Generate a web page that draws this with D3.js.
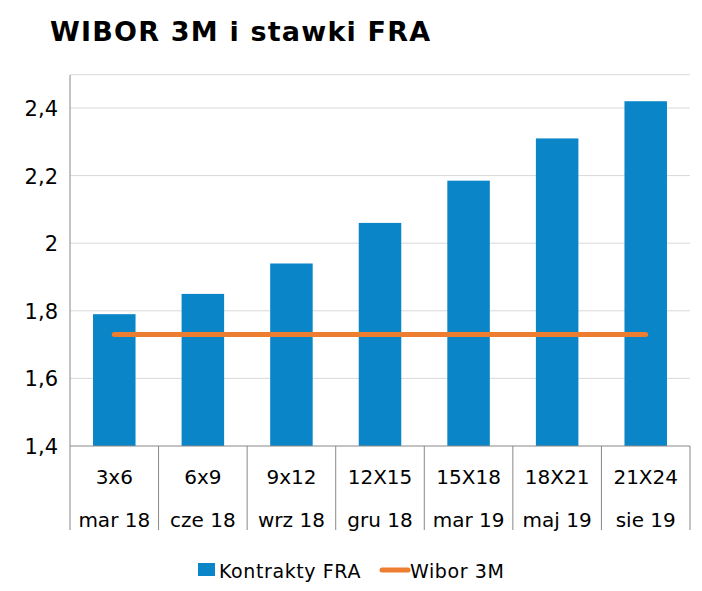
<!DOCTYPE html><html><head><meta charset="utf-8">
<script src="https://cdn.jsdelivr.net/npm/d3@7"></script>
<style>body{margin:0;background:#fff}svg{font-family:"DejaVu Sans",Verdana,sans-serif}</style></head><body>
<svg id="c" width="702" height="591"></svg>
<script>
const contracts=["3x6","6x9","9x12","12X15","15X18","18X21","21X24"];
const dates=["mar 18","cze 18","wrz 18","gru 18","mar 19","maj 19","sie 19"];
const fra=[1.79,1.85,1.94,2.06,2.185,2.31,2.42];
const wibor=[1.73,1.73,1.73,1.73,1.73,1.73,1.73];
const yTicks=[1.4,1.6,1.8,2,2.2,2.4];
const svg=d3.select("#c");
const L=70,R=690,T=75,B=446;
const x=d3.scaleBand().domain(contracts).range([L,R]).paddingInner(0.52).paddingOuter(0.26);
const xb=d3.scaleBand().domain(contracts).range([L,R]);
const y=d3.scaleLinear().domain([1.4,2.5]).range([B,B-338*1.1]);
svg.append("text").attr("x",50).attr("y",41).attr("font-size",27).attr("font-weight","bold").attr("letter-spacing",1.2).text("WIBOR 3M i stawki FRA");
svg.selectAll(".g").data(yTicks.slice(1)).join("line").attr("x1",L).attr("x2",R).attr("y1",d=>y(d)).attr("y2",d=>y(d)).attr("stroke","#d9d9d9");
svg.append("line").attr("x1",L).attr("x2",R).attr("y1",y(2.5)+0.5).attr("y2",y(2.5)+0.5).attr("stroke","#d9d9d9");
svg.selectAll(".b").data(fra).join("rect").attr("x",(d,i)=>x(contracts[i])).attr("width",x.bandwidth()).attr("y",d=>y(d)).attr("height",d=>B-y(d)).attr("fill","#0a86c8");
svg.append("path").attr("d",d3.line().x((d,i)=>xb(contracts[i])+xb.bandwidth()/2).y(d=>y(d))(wibor)).attr("stroke","#ed7d31").attr("stroke-width",5).attr("stroke-linecap","round").attr("fill","none");
svg.append("line").attr("x1",L).attr("x2",R).attr("y1",B).attr("y2",B).attr("stroke","#888");
svg.append("line").attr("x1",L).attr("x2",L).attr("y1",T).attr("y2",530).attr("stroke","#888");
svg.selectAll(".s").data(contracts).join("line").attr("x1",d=>xb(d)+xb.bandwidth()).attr("x2",d=>xb(d)+xb.bandwidth()).attr("y1",B).attr("y2",530).attr("stroke","#888");
svg.selectAll(".yt").data(yTicks).join("text").attr("x",L-12).attr("y",d=>y(d)+8).attr("text-anchor","end").attr("font-size",21).text(d=>String(d).replace(".",","));
svg.selectAll(".c1").data(contracts).join("text").attr("x",d=>xb(d)+xb.bandwidth()/2).attr("y",484).attr("text-anchor","middle").attr("font-size",20).text(d=>d);
svg.selectAll(".c2").data(dates).join("text").attr("x",(d,i)=>xb(contracts[i])+xb.bandwidth()/2).attr("y",527).attr("text-anchor","middle").attr("font-size",20).text(d=>d);
svg.append("rect").attr("x",198).attr("y",563).attr("width",17).attr("height",13).attr("fill","#0a86c8");
svg.append("text").attr("x",219).attr("y",578).attr("font-size",19).attr("letter-spacing",0.6).text("Kontrakty FRA");
svg.append("line").attr("x1",382).attr("x2",408).attr("y1",570).attr("y2",570).attr("stroke","#ed7d31").attr("stroke-width",5).attr("stroke-linecap","round");
svg.append("text").attr("x",410).attr("y",578).attr("font-size",19).attr("letter-spacing",0.6).text("Wibor 3M");
</script></body></html>
